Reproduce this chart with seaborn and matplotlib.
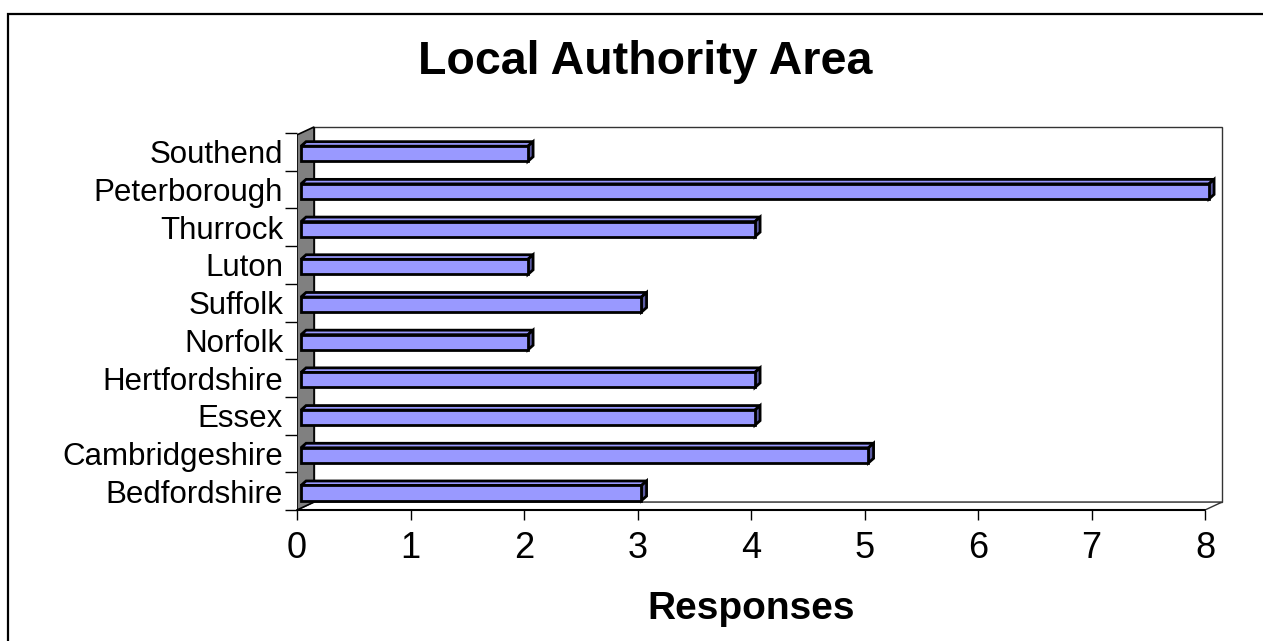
import numpy as np
import matplotlib
matplotlib.use("Agg")
import matplotlib.pyplot as plt
import matplotlib.patches as mpatches
import seaborn as sns

# data (top to bottom as shown)
areas = ["Southend", "Peterborough", "Thurrock", "Luton", "Suffolk",
         "Norfolk", "Hertfordshire", "Essex", "Cambridgeshire", "Bedfordshire"]
responses = [2, 8, 4, 2, 3, 2, 4, 4, 5, 3]
x_ticks = [0, 1, 2, 3, 4, 5, 6, 7, 8]

sns.set_style("white")
plt.rcParams["font.family"] = ["Liberation Sans", "DejaVu Sans"]
plt.rcParams["text.color"] = "black"
plt.rcParams["xtick.color"] = "black"
plt.rcParams["ytick.color"] = "black"
plt.rcParams["axes.labelcolor"] = "black"

W, H = 1263, 641
fig = plt.figure(figsize=(W / 100, H / 100), dpi=100)

# outer chart border
fig.patches.append(mpatches.Rectangle((8 / W, -0.1), 1.2, (641 - 14) / H + 0.1,
                                      transform=fig.transFigure, fill=False,
                                      edgecolor="black", linewidth=1.6))

ax = fig.add_axes([297 / W, (641 - 510) / H, (1228 - 297) / W, (510 - 120) / H])

sns.barplot(x=responses, y=areas, orient="h", color="#9999FF", saturation=1,
            edgecolor="black", linewidth=2, width=0.4, ax=ax, zorder=5)

xmax = (1228 - 297) / 113.5
ax.set_xlim(0, xmax)
ax.set_ylim(9.5, -0.5 - 13 / 37.7)

# 3D depth offsets (data units)
dx, dy = 0.15, 0.21
bdx, bdy = 0.045, 0.12
top_y = -0.45

# back wall
ax.add_patch(mpatches.Rectangle((dx, top_y - dy), 8, 9.5 - top_y,
                                facecolor="white", edgecolor="#333333",
                                linewidth=1, zorder=1))
# floor
ax.add_patch(mpatches.Polygon([(0, 9.5), (8, 9.5), (8 + dx, 9.5 - dy), (dx, 9.5 - dy)],
                              closed=True, facecolor="white", edgecolor="#333333",
                              linewidth=1, zorder=2))
# left wall
ax.add_patch(mpatches.Polygon([(0, 9.5), (0, top_y), (dx, top_y - dy), (dx, 9.5 - dy)],
                              closed=True, facecolor="#808080", edgecolor="black",
                              linewidth=1.2, zorder=3))
ax.plot([0, 8], [9.5, 9.5], color="black", linewidth=1.5, zorder=4, clip_on=False)

# bar depth faces
for p in ax.patches:
    if not isinstance(p, mpatches.Rectangle) or p.get_zorder() != 5:
        continue
    p.set_x(p.get_x() + 0.035)
    p.set_y(p.get_y() + 0.05)
    x0, y0, w, h = p.get_x(), p.get_y(), p.get_width(), p.get_height()
    ax.add_patch(mpatches.Polygon([(x0, y0), (x0 + bdx, y0 - bdy), (x0 + w + bdx, y0 - bdy), (x0 + w, y0)],
                                  closed=True, facecolor="#9999FF", edgecolor="black",
                                  linewidth=2, zorder=4.5))
    ax.add_patch(mpatches.Polygon([(x0 + w, y0), (x0 + w + bdx, y0 - bdy), (x0 + w + bdx, y0 + h - bdy), (x0 + w, y0 + h)],
                                  closed=True, facecolor="#5C5CA3", edgecolor="black",
                                  linewidth=2, zorder=4.5))

for s in ax.spines.values():
    s.set_visible(False)

ax.set_xticks(x_ticks)
ax.tick_params(axis="x", direction="out", length=7, width=1, color="black",
               labelsize=26, pad=8, bottom=True)
ax.set_yticks(range(len(areas)))
ax.set_yticklabels(areas)
ax.tick_params(axis="y", which="major", length=0, labelsize=22.5, pad=10)
ax.set_yticks(np.arange(-0.5, 10, 1), minor=True)
ax.tick_params(axis="y", which="minor", direction="out", length=9, width=1,
               color="black", left=True)

ax.set_ylabel("")
ax.set_xlabel("Responses", fontsize=28, fontweight="bold", labelpad=18)
fig.text(645 / W, 1 - 62 / H, "Local Authority Area", fontsize=33.5, fontweight="bold",
         ha="center", va="center")

ax.xaxis.label.set_position(((751 - 297) / (1228 - 297), 0))

fig.savefig("out.png", dpi=100)
